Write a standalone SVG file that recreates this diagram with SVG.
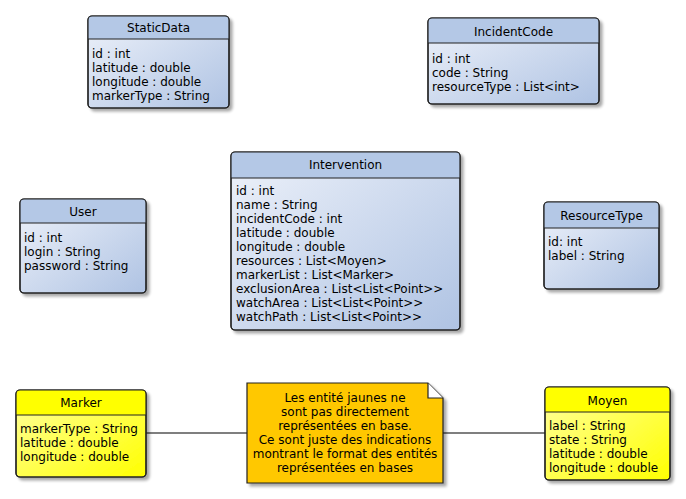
<svg xmlns="http://www.w3.org/2000/svg" width="686" height="499" viewBox="0 0 686 499">
<defs>
<linearGradient id="gb" x1="0" y1="0" x2="1" y2="1">
<stop offset="0" stop-color="#EEF2FA"/>
<stop offset="1" stop-color="#AFC3E3"/>
</linearGradient>
<linearGradient id="gy" x1="0" y1="0" x2="1" y2="1">
<stop offset="0" stop-color="#FFFFA0"/>
<stop offset="1" stop-color="#FFFF00"/>
</linearGradient>
<filter id="sh" x="-10%" y="-10%" width="130%" height="130%">
<feGaussianBlur in="SourceAlpha" stdDeviation="1.5"/>
<feOffset dx="3" dy="3" result="b"/>
<feComponentTransfer><feFuncA type="linear" slope="0.35"/></feComponentTransfer>
<feMerge><feMergeNode/><feMergeNode in="SourceGraphic"/></feMerge>
</filter>
</defs>
<style>
text{font-family:"DejaVu Sans",Verdana,sans-serif;font-size:12px;fill:#000}
.t{text-anchor:middle;font-size:12px}
.box{stroke:#222;stroke-width:1.2}
.hb{fill:#B4C8E6}
.hy{fill:#FFFF00}
.bb{fill:url(#gb)}
.by{fill:url(#gy)}
.div{stroke:#222;stroke-width:1}
.c{stroke:#000;stroke-width:1.2;fill:none}
.n{text-anchor:middle}
</style>

<g id="StaticData">
<rect x="88" y="16" width="141" height="92" rx="4" class="box bb" filter="url(#sh)"/>
<path d="M88,39 V20 a4,4 0 0 1 4,-4 H225 a4,4 0 0 1 4,4 V39 Z" class="hb"/>
<rect x="88" y="16" width="141" height="92" rx="4" class="box" fill="none"/>
<line x1="88" y1="39" x2="229" y2="39" class="div"/>
<text x="158.5" y="32" class="t">StaticData</text>
<text x="92" y="58">id : int</text>
<text x="92" y="72">latitude : double</text>
<text x="92" y="86">longitude : double</text>
<text x="92" y="100">markerType : String</text>
</g>

<g id="IncidentCode">
<rect x="428" y="18" width="171" height="86" rx="4" class="box bb" filter="url(#sh)"/>
<path d="M428,43 V22 a4,4 0 0 1 4,-4 H595 a4,4 0 0 1 4,4 V43 Z" class="hb"/>
<rect x="428" y="18" width="171" height="86" rx="4" class="box" fill="none"/>
<line x1="428" y1="43" x2="599" y2="43" class="div"/>
<text x="513.5" y="36" class="t">IncidentCode</text>
<text x="432" y="63">id : int</text>
<text x="432" y="77">code : String</text>
<text x="432" y="91">resourceType : List&lt;int&gt;</text>
</g>

<g id="Intervention">
<rect x="231" y="152" width="229" height="178" rx="4" class="box bb" filter="url(#sh)"/>
<path d="M231,178 V156 a4,4 0 0 1 4,-4 H456 a4,4 0 0 1 4,4 V178 Z" class="hb"/>
<rect x="231" y="152" width="229" height="178" rx="4" class="box" fill="none"/>
<line x1="231" y1="178" x2="460" y2="178" class="div"/>
<text x="345.5" y="169" class="t">Intervention</text>
<text x="236" y="195">id : int</text>
<text x="236" y="209">name : String</text>
<text x="236" y="223">incidentCode : int</text>
<text x="236" y="237">latitude : double</text>
<text x="236" y="251">longitude : double</text>
<text x="236" y="265">resources : List&lt;Moyen&gt;</text>
<text x="236" y="279">markerList : List&lt;Marker&gt;</text>
<text x="236" y="293">exclusionArea : List&lt;List&lt;Point&gt;&gt;</text>
<text x="236" y="307">watchArea : List&lt;List&lt;Point&gt;&gt;</text>
<text x="236" y="321">watchPath : List&lt;List&lt;Point&gt;&gt;</text>
</g>

<g id="User">
<rect x="20" y="199" width="126" height="94" rx="4" class="box bb" filter="url(#sh)"/>
<path d="M20,223 V203 a4,4 0 0 1 4,-4 H142 a4,4 0 0 1 4,4 V223 Z" class="hb"/>
<rect x="20" y="199" width="126" height="94" rx="4" class="box" fill="none"/>
<line x1="20" y1="223" x2="146" y2="223" class="div"/>
<text x="83" y="216" class="t">User</text>
<text x="24" y="242">id : int</text>
<text x="24" y="256">login : String</text>
<text x="24" y="270">password : String</text>
</g>

<g id="ResourceType">
<rect x="544" y="202" width="115" height="87" rx="4" class="box bb" filter="url(#sh)"/>
<path d="M544,228 V206 a4,4 0 0 1 4,-4 H655 a4,4 0 0 1 4,4 V228 Z" class="hb"/>
<rect x="544" y="202" width="115" height="87" rx="4" class="box" fill="none"/>
<line x1="544" y1="228" x2="659" y2="228" class="div"/>
<text x="601.5" y="220" class="t">ResourceType</text>
<text x="548" y="246">id: int</text>
<text x="548" y="260">label : String</text>
</g>

<g id="connectors">
<line x1="146" y1="433" x2="247" y2="433" class="c"/>
<line x1="443" y1="433" x2="545" y2="433" class="c"/>
</g>

<g id="Marker">
<rect x="16" y="390" width="130" height="87" rx="4" class="box by" filter="url(#sh)"/>
<path d="M16,415 V394 a4,4 0 0 1 4,-4 H142 a4,4 0 0 1 4,4 V415 Z" class="hy"/>
<rect x="16" y="390" width="130" height="87" rx="4" class="box" fill="none"/>
<line x1="16" y1="415" x2="146" y2="415" class="div"/>
<text x="81" y="407" class="t">Marker</text>
<text x="20" y="433">markerType : String</text>
<text x="20" y="447">latitude : double</text>
<text x="20" y="461">longitude : double</text>
</g>

<g id="Note">
<path d="M247,383 H428 L443,398 V483 H247 Z" fill="#FFC800" stroke="#222" stroke-width="1.2" filter="url(#sh)"/>
<path d="M428,383 V398 H443" fill="#FFF" stroke="#222" stroke-width="1.2"/>
<text x="345" y="402" class="n">Les entité jaunes ne</text>
<text x="345" y="416" class="n">sont pas directement</text>
<text x="345" y="430" class="n">représentées en base.</text>
<text x="345" y="444" class="n">Ce sont juste des indications</text>
<text x="345" y="458" class="n">montrant le format des entités</text>
<text x="345" y="472" class="n">représentées en bases</text>
</g>

<g id="Moyen">
<rect x="545" y="387" width="125" height="93" rx="4" class="box by" filter="url(#sh)"/>
<path d="M545,412 V391 a4,4 0 0 1 4,-4 H666 a4,4 0 0 1 4,4 V412 Z" class="hy"/>
<rect x="545" y="387" width="125" height="93" rx="4" class="box" fill="none"/>
<line x1="545" y1="412" x2="670" y2="412" class="div"/>
<text x="607.5" y="405" class="t">Moyen</text>
<text x="549" y="430">label : String</text>
<text x="549" y="444">state : String</text>
<text x="549" y="458">latitude : double</text>
<text x="549" y="472">longitude : double</text>
</g>
</svg>
